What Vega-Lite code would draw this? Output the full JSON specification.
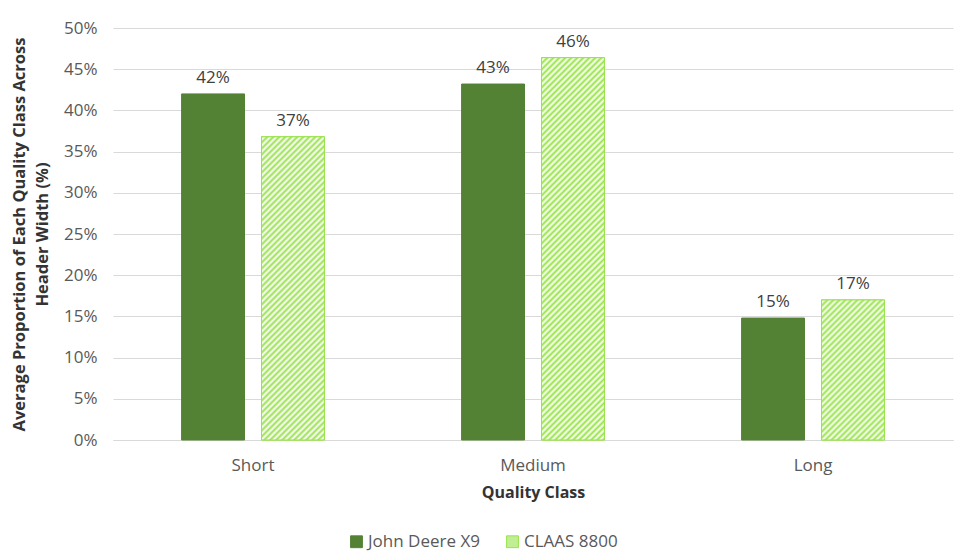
{
  "$schema": "https://vega.github.io/schema/vega-lite/v6.json",
  "width": 840,
  "height": 412,
  "autosize": {"type": "none"},
  "padding": {"left": 113, "top": 28, "right": 3, "bottom": 118},
  "background": "white",
  "config": {"font": "Open Sans", "view": {"stroke": null}},
  "params": [
    {"name": "stripes", "value": [
      {"offset":0,"color":"#98e24a"},{"offset":0.00625,"color":"#ffffff"},{"offset":0.0125,"color":"#98e24a"},{"offset":0.01875,"color":"#ffffff"},{"offset":0.025,"color":"#98e24a"},{"offset":0.03125,"color":"#ffffff"},{"offset":0.0375,"color":"#98e24a"},{"offset":0.04375,"color":"#ffffff"},{"offset":0.05,"color":"#98e24a"},{"offset":0.05625,"color":"#ffffff"},{"offset":0.0625,"color":"#98e24a"},{"offset":0.06875,"color":"#ffffff"},{"offset":0.075,"color":"#98e24a"},{"offset":0.08125,"color":"#ffffff"},{"offset":0.0875,"color":"#98e24a"},{"offset":0.09375,"color":"#ffffff"},
      {"offset":0.1,"color":"#98e24a"},{"offset":0.10625,"color":"#ffffff"},{"offset":0.1125,"color":"#98e24a"},{"offset":0.11875,"color":"#ffffff"},{"offset":0.125,"color":"#98e24a"},{"offset":0.13125,"color":"#ffffff"},{"offset":0.1375,"color":"#98e24a"},{"offset":0.14375,"color":"#ffffff"},{"offset":0.15,"color":"#98e24a"},{"offset":0.15625,"color":"#ffffff"},{"offset":0.1625,"color":"#98e24a"},{"offset":0.16875,"color":"#ffffff"},{"offset":0.175,"color":"#98e24a"},{"offset":0.18125,"color":"#ffffff"},{"offset":0.1875,"color":"#98e24a"},{"offset":0.19375,"color":"#ffffff"},
      {"offset":0.2,"color":"#98e24a"},{"offset":0.20625,"color":"#ffffff"},{"offset":0.2125,"color":"#98e24a"},{"offset":0.21875,"color":"#ffffff"},{"offset":0.225,"color":"#98e24a"},{"offset":0.23125,"color":"#ffffff"},{"offset":0.2375,"color":"#98e24a"},{"offset":0.24375,"color":"#ffffff"},{"offset":0.25,"color":"#98e24a"},{"offset":0.25625,"color":"#ffffff"},{"offset":0.2625,"color":"#98e24a"},{"offset":0.26875,"color":"#ffffff"},{"offset":0.275,"color":"#98e24a"},{"offset":0.28125,"color":"#ffffff"},{"offset":0.2875,"color":"#98e24a"},{"offset":0.29375,"color":"#ffffff"},
      {"offset":0.3,"color":"#98e24a"},{"offset":0.30625,"color":"#ffffff"},{"offset":0.3125,"color":"#98e24a"},{"offset":0.31875,"color":"#ffffff"},{"offset":0.325,"color":"#98e24a"},{"offset":0.33125,"color":"#ffffff"},{"offset":0.3375,"color":"#98e24a"},{"offset":0.34375,"color":"#ffffff"},{"offset":0.35,"color":"#98e24a"},{"offset":0.35625,"color":"#ffffff"},{"offset":0.3625,"color":"#98e24a"},{"offset":0.36875,"color":"#ffffff"},{"offset":0.375,"color":"#98e24a"},{"offset":0.38125,"color":"#ffffff"},{"offset":0.3875,"color":"#98e24a"},{"offset":0.39375,"color":"#ffffff"},
      {"offset":0.4,"color":"#98e24a"},{"offset":0.40625,"color":"#ffffff"},{"offset":0.4125,"color":"#98e24a"},{"offset":0.41875,"color":"#ffffff"},{"offset":0.425,"color":"#98e24a"},{"offset":0.43125,"color":"#ffffff"},{"offset":0.4375,"color":"#98e24a"},{"offset":0.44375,"color":"#ffffff"},{"offset":0.45,"color":"#98e24a"},{"offset":0.45625,"color":"#ffffff"},{"offset":0.4625,"color":"#98e24a"},{"offset":0.46875,"color":"#ffffff"},{"offset":0.475,"color":"#98e24a"},{"offset":0.48125,"color":"#ffffff"},{"offset":0.4875,"color":"#98e24a"},{"offset":0.49375,"color":"#ffffff"},
      {"offset":0.5,"color":"#98e24a"},{"offset":0.50625,"color":"#ffffff"},{"offset":0.5125,"color":"#98e24a"},{"offset":0.51875,"color":"#ffffff"},{"offset":0.525,"color":"#98e24a"},{"offset":0.53125,"color":"#ffffff"},{"offset":0.5375,"color":"#98e24a"},{"offset":0.54375,"color":"#ffffff"},{"offset":0.55,"color":"#98e24a"},{"offset":0.55625,"color":"#ffffff"},{"offset":0.5625,"color":"#98e24a"},{"offset":0.56875,"color":"#ffffff"},{"offset":0.575,"color":"#98e24a"},{"offset":0.58125,"color":"#ffffff"},{"offset":0.5875,"color":"#98e24a"},{"offset":0.59375,"color":"#ffffff"},
      {"offset":0.6,"color":"#98e24a"},{"offset":0.60625,"color":"#ffffff"},{"offset":0.6125,"color":"#98e24a"},{"offset":0.61875,"color":"#ffffff"},{"offset":0.625,"color":"#98e24a"},{"offset":0.63125,"color":"#ffffff"},{"offset":0.6375,"color":"#98e24a"},{"offset":0.64375,"color":"#ffffff"},{"offset":0.65,"color":"#98e24a"},{"offset":0.65625,"color":"#ffffff"},{"offset":0.6625,"color":"#98e24a"},{"offset":0.66875,"color":"#ffffff"},{"offset":0.675,"color":"#98e24a"},{"offset":0.68125,"color":"#ffffff"},{"offset":0.6875,"color":"#98e24a"},{"offset":0.69375,"color":"#ffffff"},
      {"offset":0.7,"color":"#98e24a"},{"offset":0.70625,"color":"#ffffff"},{"offset":0.7125,"color":"#98e24a"},{"offset":0.71875,"color":"#ffffff"},{"offset":0.725,"color":"#98e24a"},{"offset":0.73125,"color":"#ffffff"},{"offset":0.7375,"color":"#98e24a"},{"offset":0.74375,"color":"#ffffff"},{"offset":0.75,"color":"#98e24a"},{"offset":0.75625,"color":"#ffffff"},{"offset":0.7625,"color":"#98e24a"},{"offset":0.76875,"color":"#ffffff"},{"offset":0.775,"color":"#98e24a"},{"offset":0.78125,"color":"#ffffff"},{"offset":0.7875,"color":"#98e24a"},{"offset":0.79375,"color":"#ffffff"},
      {"offset":0.8,"color":"#98e24a"},{"offset":0.80625,"color":"#ffffff"},{"offset":0.8125,"color":"#98e24a"},{"offset":0.81875,"color":"#ffffff"},{"offset":0.825,"color":"#98e24a"},{"offset":0.83125,"color":"#ffffff"},{"offset":0.8375,"color":"#98e24a"},{"offset":0.84375,"color":"#ffffff"},{"offset":0.85,"color":"#98e24a"},{"offset":0.85625,"color":"#ffffff"},{"offset":0.8625,"color":"#98e24a"},{"offset":0.86875,"color":"#ffffff"},{"offset":0.875,"color":"#98e24a"},{"offset":0.88125,"color":"#ffffff"},{"offset":0.8875,"color":"#98e24a"},{"offset":0.89375,"color":"#ffffff"},
      {"offset":0.9,"color":"#98e24a"},{"offset":0.90625,"color":"#ffffff"},{"offset":0.9125,"color":"#98e24a"},{"offset":0.91875,"color":"#ffffff"},{"offset":0.925,"color":"#98e24a"},{"offset":0.93125,"color":"#ffffff"},{"offset":0.9375,"color":"#98e24a"},{"offset":0.94375,"color":"#ffffff"},{"offset":0.95,"color":"#98e24a"},{"offset":0.95625,"color":"#ffffff"},{"offset":0.9625,"color":"#98e24a"},{"offset":0.96875,"color":"#ffffff"},{"offset":0.975,"color":"#98e24a"},{"offset":0.98125,"color":"#ffffff"},{"offset":0.9875,"color":"#98e24a"},{"offset":0.99375,"color":"#ffffff"},
      {"offset":1,"color":"#98e24a"}
    ]}
  ],
  "data": {"values": [
    {"quality": "Short", "model": "John Deere X9", "value": 0.42},
    {"quality": "Short", "model": "CLAAS 8800", "value": 0.368},
    {"quality": "Medium", "model": "John Deere X9", "value": 0.432},
    {"quality": "Medium", "model": "CLAAS 8800", "value": 0.464},
    {"quality": "Long", "model": "John Deere X9", "value": 0.148},
    {"quality": "Long", "model": "CLAAS 8800", "value": 0.17}
  ]},
  "encoding": {
    "x": {
      "field": "quality", "type": "nominal", "sort": ["Short", "Medium", "Long"],
      "scale": {"paddingInner": 0.49, "paddingOuter": 0.245},
      "axis": {
        "title": "Quality Class", "titleFontSize": 16, "titleFontWeight": "bold", "titleColor": "#333333", "titlePadding": 11,
        "labelFontSize": 17, "labelColor": "#595959", "labelPadding": 17, "labelAngle": 0,
        "ticks": false, "domainColor": "#d9d9d9", "grid": false
      }
    },
    "xOffset": {
      "field": "model", "type": "nominal", "sort": ["John Deere X9", "CLAAS 8800"],
      "scale": {"paddingInner": 0.2125, "paddingOuter": 0}
    },
    "y": {
      "field": "value", "type": "quantitative",
      "scale": {"domain": [0, 0.5]},
      "axis": {
        "title": ["Average Proportion of Each Quality Class Across", "Header Width (%)"],
        "titleFontSize": 16.5, "titleFontWeight": "bold", "titleColor": "#333333", "titleLineHeight": 23, "titlePadding": 13,
        "format": ".0%", "values": [0, 0.05, 0.1, 0.15, 0.2, 0.25, 0.3, 0.35, 0.4, 0.45, 0.5],
        "labelFontSize": 17, "labelColor": "#595959", "labelPadding": 16,
        "ticks": false, "domain": false, "gridColor": "#d9d9d9", "gridWidth": 1
      }
    }
  },
  "layer": [
    {
      "mark": {"type": "bar", "strokeWidth": 1},
      "encoding": {
        "fill": {
          "field": "model", "type": "nominal",
          "scale": {"domain": ["John Deere X9", "CLAAS 8800"], "range": ["#548235", "#c0ee92"]},
          "legend": {"title": null, "orient": "none", "legendX": 235, "legendY": 505, "direction": "horizontal", "symbolType": "square", "symbolSize": 140, "symbolStrokeWidth": 1, "labelFontSize": 17, "labelColor": "#595959", "labelOffset": 3, "columnPadding": 24, "padding": 0}
        },
        "stroke": {
          "field": "model", "type": "nominal",
          "scale": {"domain": ["John Deere X9", "CLAAS 8800"], "range": ["#548235", "#98e24a"]},
          "legend": {"title": null, "orient": "none", "legendX": 235, "legendY": 505, "direction": "horizontal", "symbolType": "square", "symbolSize": 140, "symbolStrokeWidth": 1, "labelFontSize": 17, "labelColor": "#595959", "labelOffset": 3, "columnPadding": 24, "padding": 0}
        }
      }
    },
    {
      "transform": [{"filter": "datum.model === 'CLAAS 8800'"}],
      "mark": {
        "type": "bar", "stroke": "#98e24a", "strokeWidth": 1,
        "fill": {"expr": "{gradient: 'linear', x1: 0, y1: 0, x2: 480 * bandwidth('xOffset') / (pow(bandwidth('xOffset'), 2) + pow(scale('y', 0) - scale('y', datum.value), 2)), y2: 480 * (scale('y', 0) - scale('y', datum.value)) / (pow(bandwidth('xOffset'), 2) + pow(scale('y', 0) - scale('y', datum.value), 2)), stops: stripes}"}
      }
    },
    {
      "mark": {"type": "text", "baseline": "alphabetic", "align": "center", "dy": -11, "fontSize": 17, "color": "#404040"},
      "encoding": {"text": {"field": "value", "type": "quantitative", "format": ".0%"}}
    }
  ]
}
